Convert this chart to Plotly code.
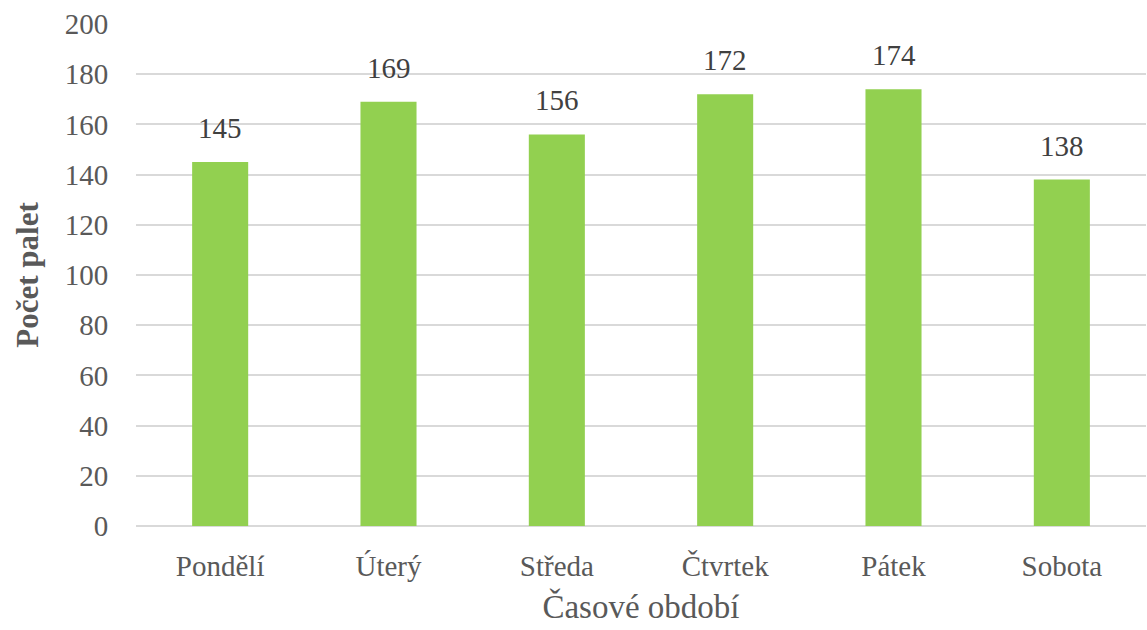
import plotly.graph_objects as go

categories = ["Pondělí", "Úterý", "Středa", "Čtvrtek", "Pátek", "Sobota"]
values = [145, 169, 156, 172, 174, 138]
y_ticks = list(range(0, 201, 20))

font_family = "Liberation Serif"
gray = "#595959"

fig = go.Figure()
fig.add_trace(go.Bar(
    x=categories, y=values,
    marker=dict(color="#92D050", line=dict(width=0)),
    width=0.333,
))

for c, v in zip(categories, values):
    fig.add_annotation(x=c, y=v, text=str(v), showarrow=False,
                       yanchor="bottom", yshift=16,
                       font=dict(family=font_family, size=29, color="#404040"))

fig.update_layout(
    width=1147, height=630,
    margin=dict(l=136, r=1, t=24, b=104),
    paper_bgcolor="white", plot_bgcolor="white",
    showlegend=False,
    font=dict(family=font_family, color=gray),
    xaxis=dict(
        showgrid=False, showline=False, zeroline=False,
        ticks="outside", ticklen=14, tickcolor="rgba(0,0,0,0)",
        tickfont=dict(family=font_family, size=29, color=gray),
        title=dict(text="Časové období", font=dict(family=font_family, size=33, color=gray), standoff=14),
    ),
    yaxis=dict(
        range=[0, 200], tickvals=y_ticks,
        showgrid=True, gridcolor="#D9D9D9", gridwidth=1.5,
        zeroline=True, zerolinecolor="#D9D9D9", zerolinewidth=1.5,
        showline=False,
        ticks="outside", ticklen=21, tickcolor="rgba(0,0,0,0)",
        tickfont=dict(family=font_family, size=29, color=gray),
        title=dict(text="<b>Počet palet</b>", font=dict(family=font_family, size=31, color=gray), standoff=16),
    ),
)

fig.write_html("out.html")
